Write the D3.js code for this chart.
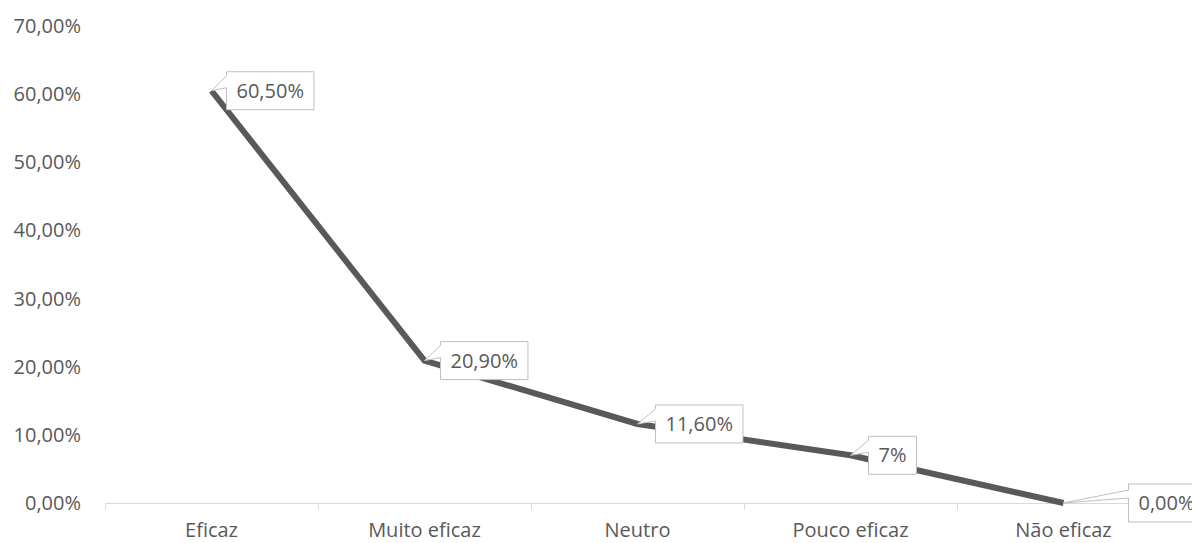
<!DOCTYPE html>
<html><head><meta charset="utf-8">
<script src="https://cdn.jsdelivr.net/npm/d3@7"></script>
<style>
html,body{margin:0;padding:0;background:#fff;}
svg{display:block;font-family:"Open Sans",sans-serif;}
</style></head>
<body><svg id="c" width="1192" height="543"></svg>
<script>
const categories = ["Eficaz","Muito eficaz","Neutro","Pouco eficaz","Não eficaz"];
const values = [60.5, 20.9, 11.6, 7, 0];
const valueLabels = ["60,50%","20,90%","11,60%","7%","0,00%"];
const yTicks = [0,10,20,30,40,50,60,70];
const yTickLabels = ["0,00%","10,00%","20,00%","30,00%","40,00%","50,00%","60,00%","70,00%"];

(function(){
const svg = d3.select("#c");
const mLeft = 105, mRight = 1170, mTop = 26, mBottom = 503;
const fs = 20;
const x = d3.scaleBand().domain(categories).range([mLeft, mRight]);
const y = d3.scaleLinear().domain([0,70]).range([mBottom, mTop]);
const txt = "#595959";

svg.append("g").selectAll("text").data(yTicks).join("text")
  .attr("x", 81).attr("y", d => y(d)).attr("dy","0.35em")
  .attr("text-anchor","end").attr("font-size",fs).attr("fill",txt)
  .text((d,i) => yTickLabels[i]);

const xa = svg.append("g");
xa.append("line").attr("x1",mLeft).attr("x2",mRight).attr("y1",mBottom+0.5).attr("y2",mBottom+0.5)
  .attr("stroke","#d9d9d9").attr("stroke-width",1);
const bounds = categories.map(c => x(c)).concat([mRight]);
xa.selectAll("line.t").data(bounds).join("line").attr("class","t")
  .attr("x1",d=>Math.round(d)+0.5).attr("x2",d=>Math.round(d)+0.5)
  .attr("y1",mBottom).attr("y2",mBottom+7).attr("stroke","#d9d9d9");
xa.selectAll("text").data(categories).join("text")
  .attr("x", d => x(d)+x.bandwidth()/2).attr("y", 530).attr("dy","0.35em")
  .attr("text-anchor","middle").attr("font-size",fs).attr("fill",txt).text(d=>d);

const pts = categories.map((c,i)=>[x(c)+x.bandwidth()/2, y(values[i])]);
svg.append("path").attr("d", d3.line()(pts)).attr("fill","none")
  .attr("stroke","#595959").attr("stroke-width",6).attr("stroke-linejoin","miter");

const offsets = [15,16,18,18,65];
const g = svg.append("g");
pts.forEach((p,i)=>{
  const t = g.append("text").attr("font-size",fs).attr("fill",txt).text(valueLabels[i]);
  const w = t.node().getComputedTextLength();
  const bx = p[0] + offsets[i], bw = w + 20, bh = 38;
  const by = p[1] - bh/2;
  let wy1, wy2;
  if (i === 4) { wy1 = by + 6; wy2 = by + 14; }
  else { wy1 = by + 4; wy2 = by + 16; }
  const path = `M${bx},${by} H${bx+bw} V${by+bh} H${bx} V${wy2} L${p[0]},${p[1]} L${bx},${wy1} Z`;
  g.insert("path","text").attr("d",path).attr("fill","#fff").attr("stroke","#bfbfbf").attr("stroke-width",1);
  t.attr("x", bx + bw/2).attr("y", p[1]).attr("dy","0.35em").attr("text-anchor","middle");
});
})();
</script></body></html>
